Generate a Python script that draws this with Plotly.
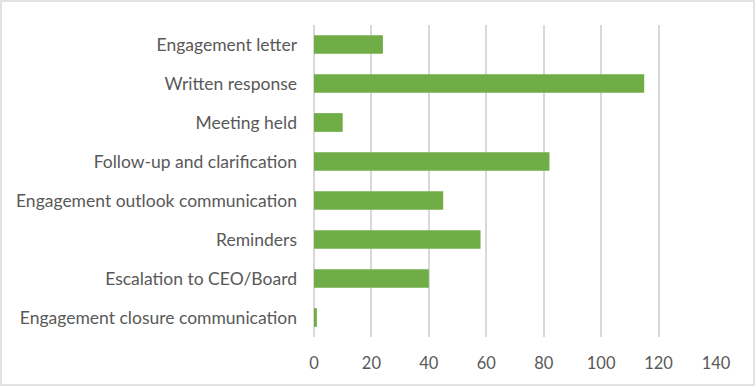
import plotly.graph_objects as go

categories = [
    "Engagement letter",
    "Written response",
    "Meeting held",
    "Follow-up and clarification",
    "Engagement outlook communication",
    "Reminders",
    "Escalation to CEO/Board",
    "Engagement closure communication",
]
values = [24, 115, 10, 82, 45, 58, 40, 1]
x_ticks = [0, 20, 40, 60, 80, 100, 120, 140]

BAR = "#70AD47"
GRID = "#D9D9D9"
TXT = "#595959"
FONT = "Lato, Open Sans, sans-serif"

fig = go.Figure(
    go.Bar(
        y=categories,
        x=values,
        orientation="h",
        marker=dict(color=BAR, line=dict(width=0)),
    )
)

W, H = 756, 387
L, R, T, B = 314, 40, 25, 50
pw = W - L - R
ph = H - T - B

fig.update_layout(
    width=W,
    height=H,
    margin=dict(l=L, r=R, t=T, b=B, pad=0),
    paper_bgcolor="white",
    plot_bgcolor="white",
    bargap=0.52,
    showlegend=False,
    font=dict(family=FONT, size=17, color=TXT),
    xaxis=dict(
        range=[0, 140],
        tickvals=x_ticks,
        showgrid=True,
        gridcolor=GRID,
        gridwidth=1.5,
        zeroline=True,
        zerolinecolor=GRID,
        zerolinewidth=1.5,
        showline=False,
        ticks="",
        ticklabelstandoff=14,
        tickfont=dict(family=FONT, size=16.5, color=TXT),
        fixedrange=True,
    ),
    yaxis=dict(
        categoryorder="array",
        categoryarray=categories,
        autorange="reversed",
        showgrid=False,
        zeroline=False,
        showline=False,
        ticks="",
        ticklabelstandoff=16,
        tickfont=dict(family=FONT, size=17.5, color=TXT),
        fixedrange=True,
    ),
    shapes=[
        dict(
            type="rect",
            xref="paper",
            yref="paper",
            x0=(1 - L) / pw,
            x1=(754 - L) / pw,
            y0=(T + ph - 385) / ph,
            y1=(T + ph - 1) / ph,
            line=dict(color=GRID, width=1.5),
            fillcolor="rgba(0,0,0,0)",
            layer="below",
        )
    ],
)

fig.write_html("out.html")
